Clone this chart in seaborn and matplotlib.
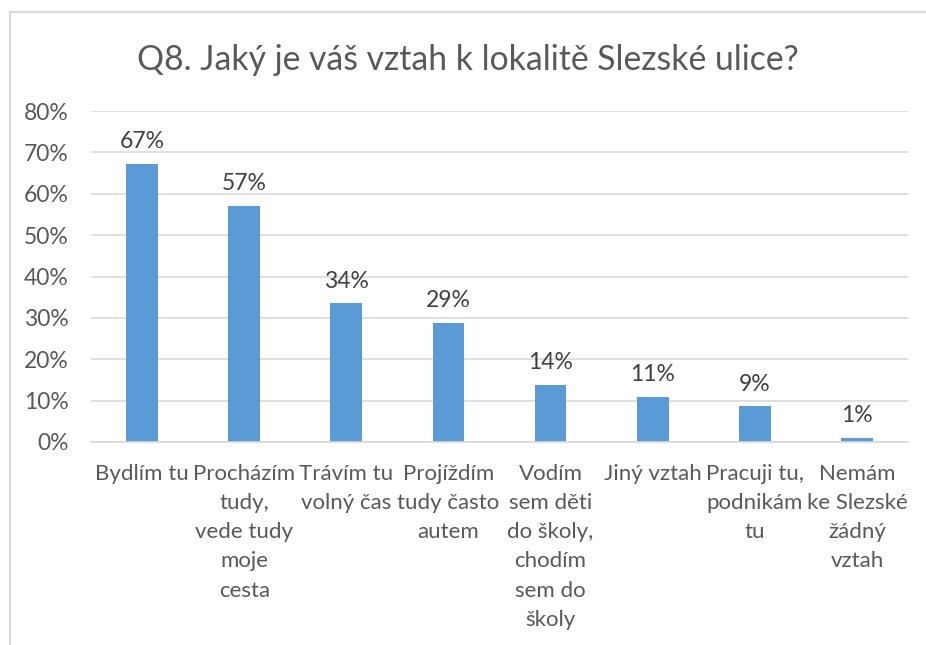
import matplotlib
matplotlib.use("Agg")
import matplotlib.pyplot as plt
import seaborn as sns
import pandas as pd
from matplotlib.patches import Rectangle
from matplotlib.ticker import FuncFormatter

categories = [
    "Bydlím tu",
    "Procházím\ntudy,\nvede tudy\nmoje\ncesta",
    "Trávím tu\nvolný čas",
    "Projíždím\ntudy často\nautem",
    "Vodím\nsem děti\ndo školy,\nchodím\nsem do\nškoly",
    "Jiný vztah",
    "Pracuji tu,\npodnikám\ntu",
    "Nemám\nke Slezské\nžádný\nvztah",
]
values = [67.2, 57.1, 33.5, 28.7, 13.8, 10.95, 8.6, 0.9]
yticks = [0, 10, 20, 30, 40, 50, 60, 70, 80]
title = "Q8. Jaký je váš vztah k lokalitě Slezské ulice?"

df = pd.DataFrame({"cat": categories, "val": values})

sns.set_theme(style="white")
FONT = ["Lato", "DejaVu Sans"]
plt.rcParams["font.family"] = FONT

TXT = "#595959"
GRID = "#D9D9D9"
BAR = "#5B9BD5"

fig = plt.figure(figsize=(9.26, 6.45), dpi=100)
ax = fig.add_axes([91/926, 1-442/645, (908-91)/926, (442-111)/645])

sns.barplot(data=df, x="cat", y="val", color=BAR, width=0.31, ax=ax,
            saturation=1, edgecolor="none")

ax.set_ylim(0, 80)
ax.set_xlim(-0.5, len(categories)-0.5)
ax.set_yticks(yticks)
ax.yaxis.set_major_formatter(FuncFormatter(lambda v, p: f"{v:.0f}%"))
ax.grid(axis="y", color=GRID, linewidth=1.2)
ax.set_axisbelow(True)
for s in ["top", "right", "left"]:
    ax.spines[s].set_visible(False)
ax.spines["bottom"].set_color(GRID)
ax.spines["bottom"].set_linewidth(1.2)
ax.set_xlabel("")
ax.set_ylabel("")
ax.tick_params(axis="y", length=0, pad=16, labelsize=16.5, labelcolor=TXT)
ax.tick_params(axis="x", length=0, pad=15.5, labelsize=16, labelcolor=TXT)
for lab in ax.get_xticklabels():
    lab.set_linespacing(1.58)
    lab.set_verticalalignment("top")

ax.bar_label(ax.containers[0], labels=[f"{v:.0f}%" for v in values],
             padding=8.5, fontsize=16.5, color="#404040")

fig.text(0.5 + 10/926/2, 1-60/645, title, ha="center", va="center",
         fontsize=24.3, color=TXT)

fig.patches.append(Rectangle((10/926, -0.1), 1.2, 1.1 - 12/645 + 0.0,
                             transform=fig.transFigure, fill=False,
                             edgecolor=GRID, linewidth=1.5, zorder=-1))

fig.savefig("out.png", dpi=100, facecolor="white")
